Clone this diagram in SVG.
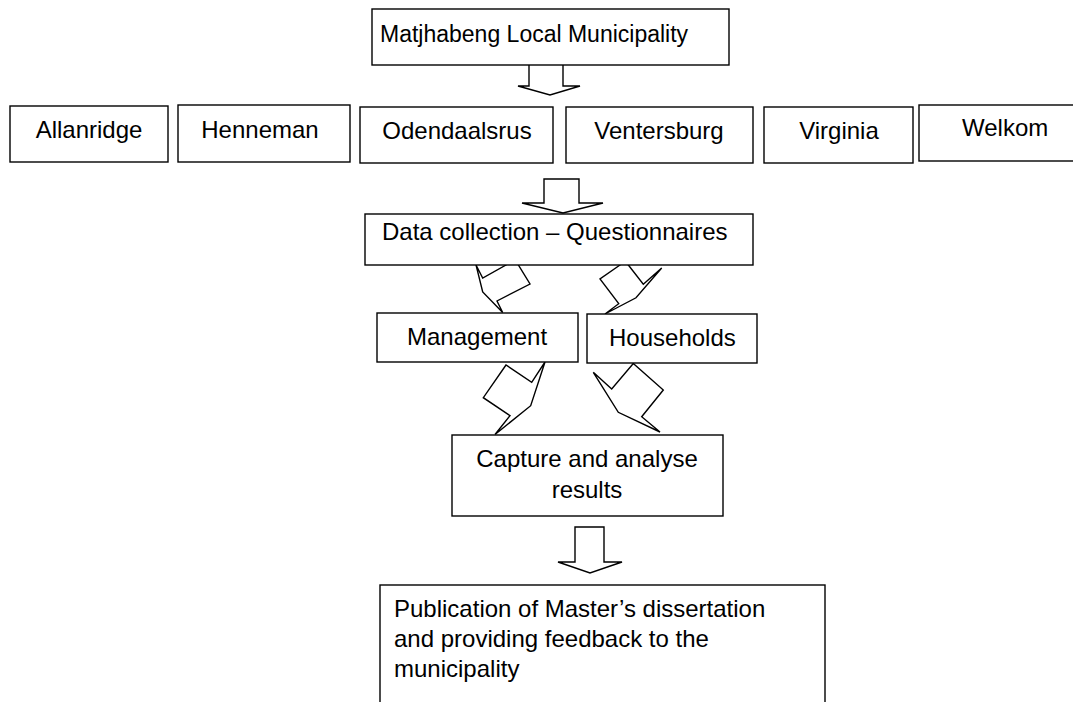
<svg xmlns="http://www.w3.org/2000/svg" width="1073" height="702" viewBox="0 0 1073 702">
<style>
.box{fill:#fff;stroke:#000;stroke-width:1.4}
.arr{fill:#fff;stroke:#000;stroke-width:1.4;stroke-linejoin:miter}
.t{font-family:"Liberation Sans",Arial,sans-serif;font-size:24px;fill:#000}
.c{text-anchor:middle}
</style>
<rect width="1073" height="702" fill="#fff"/>
<g id="connectors">
<polygon class="arr" points="529,64 563,64 563,86 580,86 550,95 518,86 529,86"/>
<polygon class="arr" points="544,179 579,179 579,203 603,203 563,213 522,203 544,203"/>
<polygon class="arr" points="474.5,262 482.7,278 511.4,262 516.5,262 530,284 497,301 502.7,312.5 482.7,292 475.3,262"/>
<polygon class="arr" points="624.3,262 600,279 618.7,303.7 605,314 636,297.8 661.7,268 643.3,284.3 626,262"/>
<polygon class="arr" points="506,365 483.3,397.7 510,415.7 495,434.5 530.7,405.7 545,362 531.7,382.3"/>
<polygon class="arr" points="633.3,363.5 611.7,389 593.3,372.3 618.3,412.3 660,432 641.7,416.7 663.3,390"/>
<polygon class="arr" points="575,527 604,527 604,562 622,562 590,573 558,562 575,562"/>
</g>
<g id="n-municipality"><rect class="box" x="372" y="9" width="357" height="56"/><text class="t" x="380" y="42" style="font-size:23px">Matjhabeng Local Municipality</text></g>
<g id="n-allanridge"><rect class="box" x="10" y="106" width="158" height="56"/><text class="t c" x="89" y="138">Allanridge</text></g>
<g id="n-henneman"><rect class="box" x="178" y="105" width="172" height="57"/><text class="t c" x="260" y="138">Henneman</text></g>
<g id="n-odendaalsrus"><rect class="box" x="360" y="107" width="193" height="56"/><text class="t c" x="457" y="139">Odendaalsrus</text></g>
<g id="n-ventersburg"><rect class="box" x="566" y="107" width="187" height="56"/><text class="t c" x="659" y="139">Ventersburg</text></g>
<g id="n-virginia"><rect class="box" x="764" y="107" width="149" height="56"/><text class="t c" x="839" y="139">Virginia</text></g>
<g id="n-welkom"><rect class="box" x="919" y="105" width="170" height="56"/><text class="t" x="962" y="136">Welkom</text></g>
<g id="n-datacollection"><rect class="box" x="365" y="214" width="388" height="51"/><text class="t" x="382" y="240">Data collection – Questionnaires</text></g>
<g id="n-management"><rect class="box" x="377" y="313" width="201" height="49"/><text class="t" x="407" y="345">Management</text></g>
<g id="n-households"><rect class="box" x="587" y="314" width="170" height="49"/><text class="t" x="609" y="346">Households</text></g>
<g id="n-capture"><rect class="box" x="452" y="435" width="271" height="81"/><text class="t c" x="587" y="467">Capture and analyse</text><text class="t c" x="587" y="498">results</text></g>
<g id="n-publication"><rect class="box" x="380" y="585" width="445" height="130"/><text class="t" x="394" y="617">Publication of Master’s dissertation</text><text class="t" x="394" y="647">and providing feedback to the</text><text class="t" x="394" y="677">municipality</text></g>
</svg>
